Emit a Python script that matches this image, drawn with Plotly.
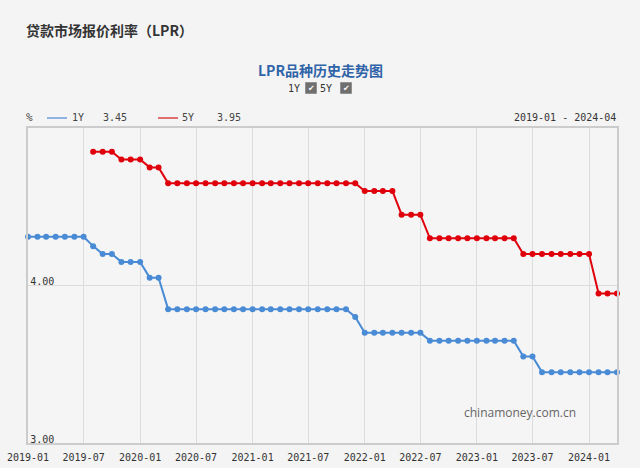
import plotly.graph_objects as go

months = [
    "2019-01", "2019-02", "2019-03", "2019-04", "2019-05", "2019-06", "2019-07", "2019-08", "2019-09", "2019-10", "2019-11", "2019-12",
    "2020-01", "2020-02", "2020-03", "2020-04", "2020-05", "2020-06", "2020-07", "2020-08", "2020-09", "2020-10", "2020-11", "2020-12",
    "2021-01", "2021-02", "2021-03", "2021-04", "2021-05", "2021-06", "2021-07", "2021-08", "2021-09", "2021-10", "2021-11", "2021-12",
    "2022-01", "2022-02", "2022-03", "2022-04", "2022-05", "2022-06", "2022-07", "2022-08", "2022-09", "2022-10", "2022-11", "2022-12",
    "2023-01", "2023-02", "2023-03", "2023-04", "2023-05", "2023-06", "2023-07", "2023-08", "2023-09", "2023-10", "2023-11", "2023-12",
    "2024-01", "2024-02", "2024-03", "2024-04",
]

lpr_1y = [
    4.31, 4.31, 4.31, 4.31, 4.31, 4.31, 4.31, 4.25, 4.20, 4.20, 4.15, 4.15,
    4.15, 4.05, 4.05, 3.85, 3.85, 3.85, 3.85, 3.85, 3.85, 3.85, 3.85, 3.85,
    3.85, 3.85, 3.85, 3.85, 3.85, 3.85, 3.85, 3.85, 3.85, 3.85, 3.85, 3.80,
    3.70, 3.70, 3.70, 3.70, 3.70, 3.70, 3.70, 3.65, 3.65, 3.65, 3.65, 3.65,
    3.65, 3.65, 3.65, 3.65, 3.65, 3.55, 3.55, 3.45, 3.45, 3.45, 3.45, 3.45,
    3.45, 3.45, 3.45, 3.45,
]

lpr_5y = [
    None, None, None, None, None, None, None, 4.85, 4.85, 4.85, 4.80, 4.80,
    4.80, 4.75, 4.75, 4.65, 4.65, 4.65, 4.65, 4.65, 4.65, 4.65, 4.65, 4.65,
    4.65, 4.65, 4.65, 4.65, 4.65, 4.65, 4.65, 4.65, 4.65, 4.65, 4.65, 4.65,
    4.60, 4.60, 4.60, 4.60, 4.45, 4.45, 4.45, 4.30, 4.30, 4.30, 4.30, 4.30,
    4.30, 4.30, 4.30, 4.30, 4.30, 4.20, 4.20, 4.20, 4.20, 4.20, 4.20, 4.20,
    4.20, 3.95, 3.95, 3.95,
]

y_ticks = [3.0, 4.0]
y_tick_labels = ["3.00", "4.00"]
x_tick_labels = ["2019-01", "2019-07", "2020-01", "2020-07", "2021-01", "2021-07",
                 "2022-01", "2022-07", "2023-01", "2023-07", "2024-01"]

title_text = "贷款市场报价利率（LPR）"
subtitle_text = "LPR品种历史走势图"
watermark = "chinamoney.com.cn"

C1 = "#4a8bd6"
C5 = "#e0000c"
BG = "#f4f4f4"
MONO = "DejaVu Sans Mono, Liberation Mono, monospace"
CJK = "Noto Sans CJK SC, sans-serif"

x_dates = [m + "-01" for m in months]
x_tick_vals = [m + "-01" for m in x_tick_labels]

fig = go.Figure()
fig.add_trace(go.Scatter(
    x=x_dates, y=lpr_1y, name="1Y", mode="lines+markers",
    line=dict(color=C1, width=2), marker=dict(color=C1, size=6),
    cliponaxis=False, showlegend=False,
))
fig.add_trace(go.Scatter(
    x=x_dates, y=lpr_5y, name="5Y", mode="lines+markers",
    line=dict(color=C5, width=2), marker=dict(color=C5, size=6),
    cliponaxis=False, showlegend=False,
))

ann = []
shapes = []

W, H = 640, 468
ML, MR, MT, MB = 28, 23, 128, 25
PW, PH = W - ML - MR, H - MT - MB


def px(x):
    return (x - ML) / PW


def py(y):
    return (H - MB - y) / PH


def add_text(text, x, y, size=11, color="#333333", family=MONO, anchor="left", bold=False):
    t = "<b>" + text + "</b>" if bold else text
    ann.append(dict(text=t, x=px(x), y=py(y), xref="paper", yref="paper",
                    showarrow=False, xanchor=anchor, yanchor="middle", borderpad=0,
                    font=dict(family=family, size=size, color=color)))


add_text(title_text, 25, 30, size=14, color="#333333", family=CJK, bold=True)
add_text(subtitle_text, 320, 70, size=14, color="#2f63a8", family=CJK, anchor="center", bold=True)

# checkbox row
for label, lx, bx in [("1Y", 301, 311), ("5Y", 333, 346)]:
    add_text(label, lx, 88, size=10, color="#333333", anchor="right")
    shapes.append(dict(type="rect", xref="paper", yref="paper",
                       x0=px(bx - 5.5), x1=px(bx + 5.5), y0=py(93.5), y1=py(82.5),
                       fillcolor="#6f6f6f", line=dict(color="#6f6f6f", width=0.5)))
    add_text("✔", bx, 88, size=8, color="#ffffff", family="DejaVu Sans", anchor="center")

# legend row
add_text("%", 25, 118, size=11, color="#444444")
shapes.append(dict(type="line", xref="paper", yref="paper", x0=px(47), x1=px(67),
                   y0=py(118), y1=py(118), line=dict(color="#8fb4e3", width=2)))
add_text("1Y", 71, 118, size=10, color="#444444")
add_text("%.2f" % lpr_1y[-1], 102, 118, size=10, color="#444444")
shapes.append(dict(type="line", xref="paper", yref="paper", x0=px(158), x1=px(178),
                   y0=py(118), y1=py(118), line=dict(color="#e07070", width=2)))
add_text("5Y", 181, 118, size=10, color="#444444")
add_text("%.2f" % lpr_5y[-1], 216, 118, size=10, color="#444444")
add_text(months[0] + " - " + months[-1], 617, 118, size=10, color="#333333", anchor="right")

# watermark
add_text(watermark, 520, 412, size=12, color="#666666", family="Open Sans, sans-serif", anchor="center")

fig.update_layout(
    width=W, height=H, autosize=False,
    margin=dict(l=ML, r=MR, t=MT, b=MB, pad=0, autoexpand=False),
    paper_bgcolor=BG, plot_bgcolor="#f5f5f5",
    annotations=ann, shapes=shapes,
    xaxis=dict(
        type="date", range=[x_dates[0], x_dates[-1]],
        tickvals=x_tick_vals, ticktext=x_tick_labels,
        ticklabelstandoff=4, automargin=False,
        showgrid=True, gridcolor="#dcdcdc", gridwidth=1,
        showline=True, linecolor="#cccccc", linewidth=1.5, mirror=True,
        ticks="", zeroline=False,
        tickfont=dict(family=MONO, size=10, color="#333333"),
    ),
    yaxis=dict(
        range=[3.0, 5.0], tickvals=y_ticks, ticktext=y_tick_labels,
        ticklabelposition="outside top", ticklabelstandoff=-30, ticklabelshift=3,
        automargin=False,
        showgrid=True, gridcolor="#dcdcdc", gridwidth=1,
        showline=True, linecolor="#cccccc", linewidth=1.5, mirror=True,
        ticks="", zeroline=False,
        tickfont=dict(family=MONO, size=10, color="#333333"),
    ),
)

fig.write_html("out.html", config={"displayModeBar": False},
               post_script="document.body.style.margin='0';document.body.style.background='" + BG + "';")
